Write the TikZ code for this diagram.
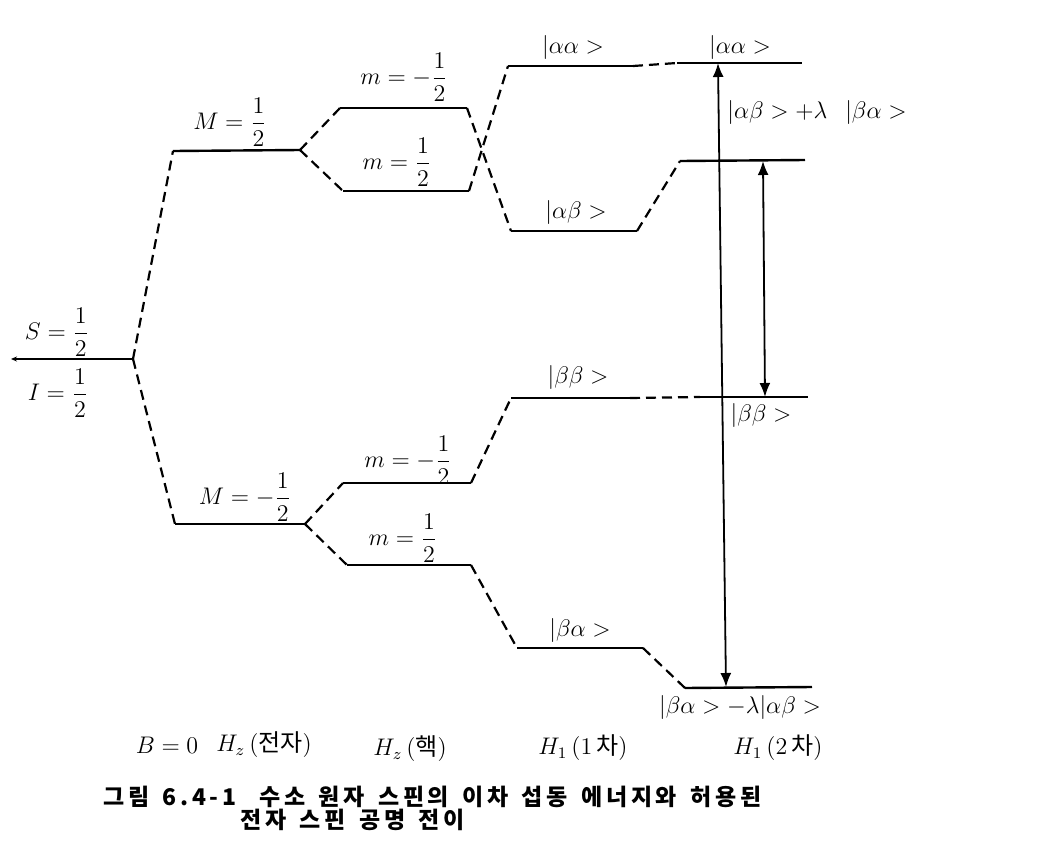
\documentclass[tikz,border=0pt]{standalone}
\usepackage{fontspec}
\usepackage{amsmath}
\newfontfamily\kor{Noto Sans CJK KR}
\newfontfamily\korcap[LetterSpace=16,WordSpace=1.5]{Noto Sans CJK KR}
\usetikzlibrary{arrows.meta}
\begin{document}
\begin{tikzpicture}[x=0.5pt,y=-0.5pt,
  level/.style={line width=1.2pt},
  link/.style={line width=1.1pt,dash pattern=on 5pt off 3pt},
  trans/.style={line width=0.9pt,{Latex[length=7pt,width=5.5pt]}-{Latex[length=7pt,width=5.5pt]}},
  lbl/.style={font=\fontsize{12}{14}\selectfont,inner sep=0pt},
  ket/.style={font=\fontsize{13}{15}\selectfont,inner sep=0pt},
  axislbl/.style={font=\fontsize{12}{14}\selectfont,inner sep=0pt},
  capt/.style={font=\korcap\bfseries\fontsize{11.5}{13}\selectfont,anchor=west,inner sep=0pt}]
\useasboundingbox (0,0) rectangle (1057,847);

% Level end points
\coordinate (r0) at (11,359);   \coordinate (r1) at (133,359);
\coordinate (Mu0) at (173,151); \coordinate (Mu1) at (300,150);
\coordinate (Md0) at (175,524); \coordinate (Md1) at (305,524);
\coordinate (n10) at (340,108); \coordinate (n11) at (467,108);
\coordinate (n20) at (343,191); \coordinate (n21) at (469,191);
\coordinate (n30) at (343,483); \coordinate (n31) at (471,483);
\coordinate (n40) at (347,565); \coordinate (n41) at (471,565);
\coordinate (aa0) at (508,66);  \coordinate (aa1) at (633,66);
\coordinate (ab0) at (511,231); \coordinate (ab1) at (637,231);
\coordinate (bb0) at (511,398); \coordinate (bb1) at (630,398);
\coordinate (ba0) at (517,648); \coordinate (ba1) at (643,648);
\coordinate (AA0) at (677,63);  \coordinate (AA1) at (802,63);
\coordinate (AB0) at (680,161); \coordinate (AB1) at (805,160);
\coordinate (BB0) at (700,397); \coordinate (BB1) at (808,397);
\coordinate (BA0) at (685,688); \coordinate (BA1) at (812,687);

% Levels
\draw[level,{Stealth[length=3pt,width=2.5pt]}-] (r0) -- (r1);
\foreach \a in {Mu,Md,n1,n2,n3,n4}
  \draw[level] (\a0) -- (\a1);
\foreach \a in {aa,ab,bb,ba,AA,AB,BB,BA}
  \draw[level] (\a0) -- (\a1);

% Splittings
\draw[link] (r1) -- (Mu0);
\draw[link] (r1) -- (Md0);
\draw[link] (Mu1) -- (n10);
\draw[link] (Mu1) -- (n20);
\draw[link] (Md1) -- (n30);
\draw[link] (Md1) -- (n40);
\draw[link] (n11) -- (ab0);
\draw[link] (n21) -- (aa0);
\draw[link] (n31) -- (bb0);
\draw[link] (n41) -- (ba0);
\draw[link] (aa1) -- (AA0);
\draw[link] (ab1) -- (AB0);
\draw[link] (bb1) -- (BB0);
\draw[link] (ba1) -- (BA0);

% Transitions
\coordinate (t1a) at (718,63);  \coordinate (t1b) at (726,687);
\coordinate (t2a) at (763,161); \coordinate (t2b) at (765,397);
\draw[trans] (t1b) -- (t1a);
\draw[trans] (t2a) -- (t2b);

% Quantum numbers
\node[lbl] (S) at (57,332) {$S=\dfrac{1}{2}$};
\node[lbl] (I) at (58,393) {$I=\dfrac{1}{2}$};
\node[lbl] (Mu) at (230,122) {$M=\dfrac{1}{2}$};
\node[lbl] (Md) at (245,497) {$M=-\dfrac{1}{2}$};
\node[lbl] (n1) at (404,77) {$m=-\dfrac{1}{2}$};
\node[lbl] (n2) at (397,162) {$m=\dfrac{1}{2}$};
\node[lbl] (n3) at (408,460) {$m=-\dfrac{1}{2}$};
\node[lbl] (n4) at (403,538) {$m=\dfrac{1}{2}$};

% States
\node[ket] (aa) at (573,47) {$|\alpha\alpha >$};
\node[ket] (AA) at (740,47) {$|\alpha\alpha >$};
\node[ket] (ab) at (576,212) {$|\alpha\beta >$};
\node[ket] (bb) at (578,377) {$|\beta\beta >$};
\node[ket] (ba) at (580,630) {$|\beta\alpha >$};
\node[ket] (AB) at (817,112) {$|\alpha\beta > + \lambda\hspace{9pt}|\beta\alpha>$};
\node[ket] (BB) at (761,415) {$|\beta\beta >$};
\node[ket] (BA) at (740,707) {$|\beta\alpha > - \lambda|\alpha\beta >$};

% Stages
\node[axislbl] (B0) at (167,745) {$B=0$};
\node[axislbl] (Hze) at (264,745) {$H_z$\,({\kor 전자})};
\node[axislbl] (Hzn) at (410,749) {$H_z$\,({\kor 핵})};
\node[axislbl] (H1a) at (583,748) {$H_1$\,(1\,{\kor 차})};
\node[axislbl] (H1b) at (778,748) {$H_1$\,(2\,{\kor 차})};

% Caption
\node[capt] (cap1) at (103,797) {그림 6.4-1\quad 수소 원자 스핀의 이차 섭동 에너지와 허용된};
\node[capt] (cap2) at (240,820) {전자 스핀 공명 전이};

\end{tikzpicture}
\end{document}
